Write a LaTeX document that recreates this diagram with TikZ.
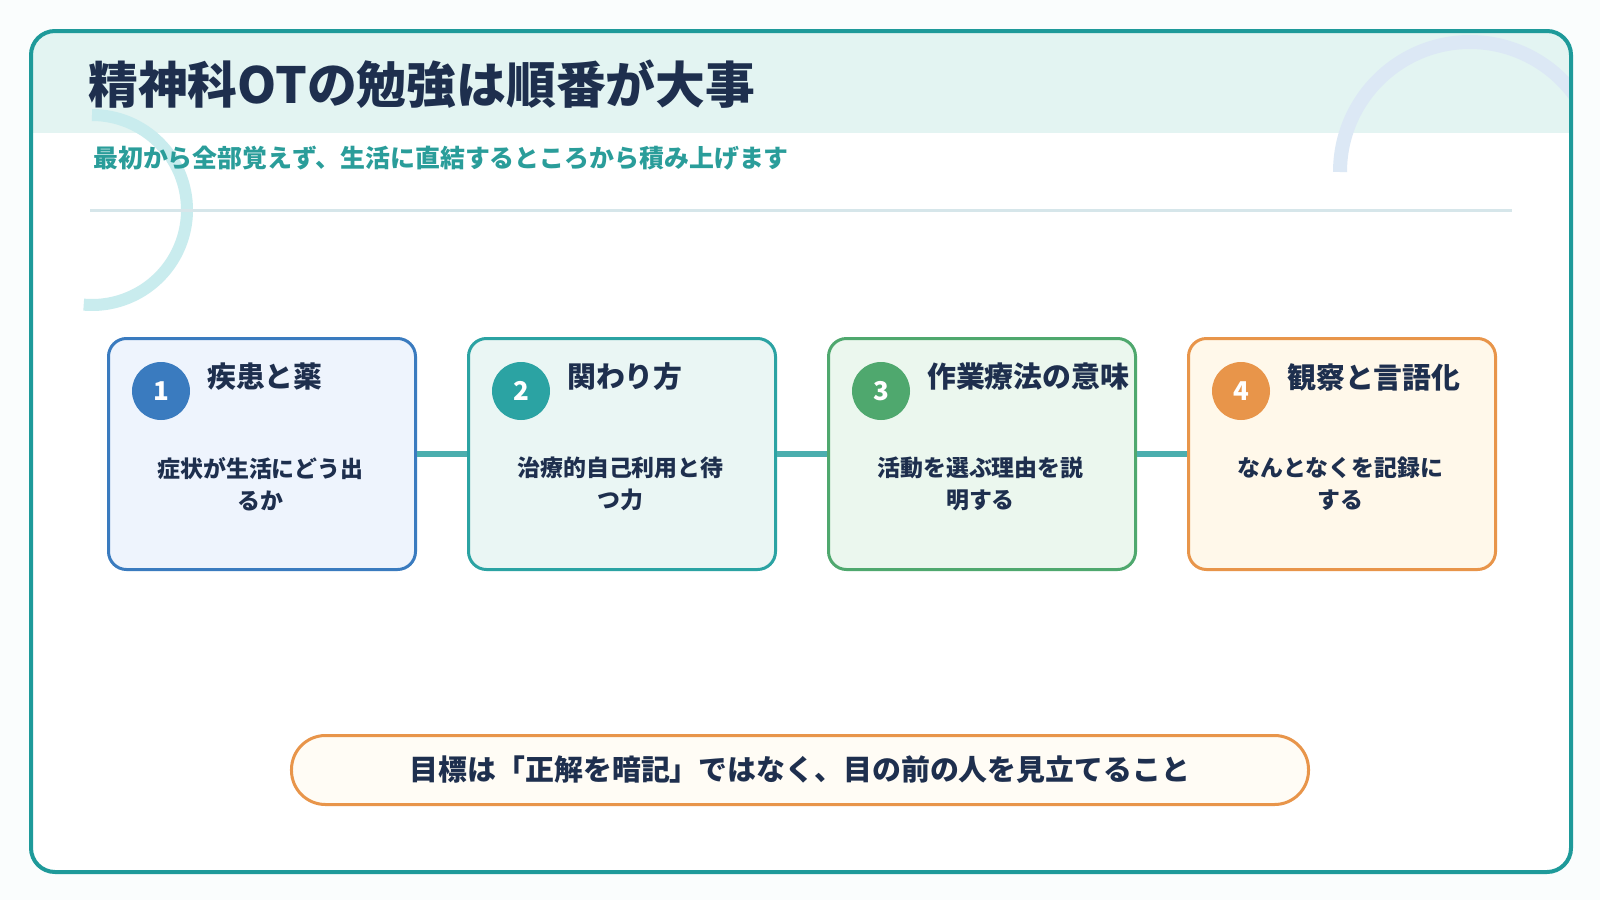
\documentclass[tikz,border=0pt]{standalone}
\usepackage{fontspec}
\newfontfamily\cjk{Noto Sans CJK JP}[BoldFont={Noto Sans CJK JP Black}]
\usetikzlibrary{positioning}
\definecolor{navy}{HTML}{1E2F4E}
\definecolor{teal}{HTML}{1E9A9A}
\definecolor{subt}{HTML}{2A9D9A}
\definecolor{bandc}{HTML}{E3F4F2}
\definecolor{bgc}{HTML}{FAFDFD}
\definecolor{arcL}{HTML}{C9ECEE}
\definecolor{arcR}{HTML}{DCE8F5}
\definecolor{divc}{HTML}{D6E6EA}
\definecolor{goalf}{HTML}{FFFCF5}
\definecolor{cA}{HTML}{3A7BBF}\definecolor{fA}{HTML}{EEF4FD}
\definecolor{cB}{HTML}{2BA3A3}\definecolor{fB}{HTML}{EAF6F4}
\definecolor{cC}{HTML}{4FA86E}\definecolor{fC}{HTML}{EBF7EE}
\definecolor{cD}{HTML}{E8954A}\definecolor{fD}{HTML}{FFF8EA}
\begin{document}
\begin{tikzpicture}[x=1bp,y=-1bp,
  card/.style={draw=#1,line width=3bp,rounded corners=18bp,minimum width=307bp,minimum height=231bp,anchor=north west},
  num/.style={circle,fill=#1,minimum size=58bp,inner sep=0pt,text=white,font=\cjk\bfseries\fontsize{26}{26}\selectfont},
  ctitle/.style={anchor=west,text=navy,font=\cjk\bfseries\fontsize{29}{32}\selectfont,inner sep=0pt},
  cbody/.style={align=center,text=navy,font=\cjk\bfseries\fontsize{23}{32}\selectfont,inner sep=0pt},
  link/.style={draw=teal!80,line width=6bp}]
\fill[bgc] (0,0) rectangle (1600,900);
\useasboundingbox (0,0) rectangle (1600,900);
\fill[white,rounded corners=24bp] (31,31) rectangle (1571,872);
\begin{scope}
\clip[rounded corners=24bp] (31,31) rectangle (1571,872);
\fill[bandc] (31,31) rectangle (1571,133);
\draw[arcR,line width=14bp] (1340,172) arc (180:340:130);
\end{scope}
\draw[arcL,line width=12bp] (92,115) arc (270:455:95);
\draw[teal,line width=4bp,rounded corners=24bp] (31,31) rectangle (1571,872);
\node[anchor=west,text=navy,font=\cjk\bfseries\fontsize{50}{52}\selectfont,inner sep=0pt] (title) at (88,84) {精神科OTの勉強は順番が大事};
\node[anchor=west,text=subt,font=\cjk\bfseries\fontsize{25}{28}\selectfont,inner sep=0pt] (sub) at (93,158) {最初から全部覚えず、生活に直結するところから積み上げます};
\draw[divc,line width=3bp] (90,210) -- (1512,210);
\foreach \i/\x/\c/\f/\n/\t/\b in {1/107/cA/fA/1/疾患と薬/{症状が生活にどう出\\るか},2/467/cB/fB/2/関わり方/{治療的自己利用と待\\つ力},3/827/cC/fC/3/作業療法の意味/{活動を選ぶ理由を説\\明する},4/1187/cD/fD/4/観察と言語化/{なんとなくを記録に\\する}}{
  \node[card=\c,fill=\f] (box\i) at (\x,337) {};
  \node[num=\c] (n\i) at (\x+54,391) {\n};
  \node[ctitle] (t\i) at (\x+100,377) {\t};
  \node[cbody] (b\i) at (\x+153.5,484) {\b};
}
\draw[link] (box1.east) -- (box2.west);
\draw[link] (box2.east) -- (box3.west);
\draw[link] (box3.east) -- (box4.west);
\node[draw=cD,fill=goalf,line width=3bp,rounded corners=34bp,minimum width=1017bp,minimum height=69bp,text=navy,font=\cjk\bfseries\fontsize{29}{32}\selectfont] (goal) at (800,770) {目標は「正解を暗記」ではなく、目の前の人を見立てること};
\end{tikzpicture}
\end{document}
